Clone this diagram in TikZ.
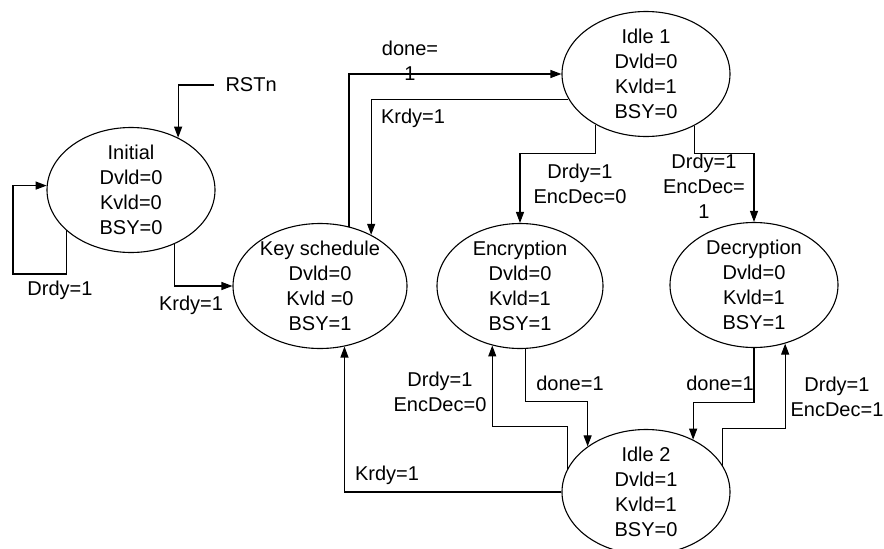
\documentclass[tikz,border=0pt]{standalone}
\usepackage{fontspec}
\setmainfont{Liberation Sans}
\usetikzlibrary{shapes.geometric,arrows.meta}

\begin{document}
\begin{tikzpicture}[x=1pt,y=-1pt,line width=1.1pt,
    >={Triangle[length=11pt,width=8pt]},
    font=\fontsize{20}{25}\selectfont]

      \useasboundingbox (0,0) rectangle (884,549);

      \begin{scope}[every node/.style={ellipse,draw,inner sep=0,minimum width=168pt,minimum height=125pt}]
        \node (init)   at (131,190) {};
        \node[minimum width=174pt] (keysch) at (320,286) {};
        \node (idle1)  at (646,74)  {};
        \node[minimum width=166pt] (enc) at (520,286) {};
        \node (dec)    at (754,285) {};
        \node (idle2)  at (646,492) {};
      \end{scope}



      \begin{scope}[every node/.style={align=center,inner sep=0}]
        \node (initT)   at (init)   {Initial\\Dvld=0\\Kvld=0\\BSY=0};
        \node (keyschT) at (keysch) {Key schedule\\Dvld=0\\Kvld =0\\BSY=1};
        \node (idle1T)  at (idle1)  {Idle 1\\Dvld=0\\Kvld=1\\BSY=0};
        \node (encT)    at (enc)    {Encryption\\Dvld=0\\Kvld=1\\BSY=1};
        \node (decT)    at (dec)    {Decryption\\Dvld=0\\Kvld=1\\BSY=1};
        \node (idle2T)  at (idle2)  {Idle 2\\Dvld=1\\Kvld=1\\BSY=0};

        \node[anchor=west] (rst) at (225,85) {RSTn};

        \node (l1)  at (60,290)  {Drdy=1};
        \node (l2)  at (191,305) {Krdy=1};
        \node (l3)  at (410,61)  {done=\\1};
        \node (l4)  at (413,118) {Krdy=1};
        \node (l5)  at (580,184) {Drdy=1\\EncDec=0};
        \node (l6)  at (704,186) {Drdy=1\\EncDec=\\1};
        \node (l7)  at (387,475) {Krdy=1};
        \node (l8)  at (440,392) {Drdy=1\\EncDec=0};
        \node (l9)  at (570,383) {done=1};
        \node (l10) at (720,383) {done=1};
        \node (l11) at (837,397) {Drdy=1\\EncDec=1};
      \end{scope}

      \coordinate (loop) at (13,274);

      \begin{scope}[->]
        \draw ([xshift=-11pt]rst.west) -| (init.48);
        \draw (init.212) |- (loop) |- (init.177);
        \draw (init.309) |- (keysch.west);
        \draw (keysch.64) |- (idle1.west);
        \draw (idle1.198) -| (keysch.45);
        \draw (idle1.225) -- ++(0,29) -| (enc.north);
        \draw (idle1.313) -- ++(0,28) -| (dec.north);
        \draw (idle2.west) -| (keysch.292);
        \draw (idle2.164) -- ++(0,-43) -| (enc.245);
        \draw (enc.275) -- ++(0,53) -| (idle2.142);
        \draw (dec.south) -- ++(0,54) -| (idle2.48);
        \draw (idle2.19) -- ++(0,-37) -| (dec.298);
      \end{scope}

    \end{tikzpicture}
\end{document}
